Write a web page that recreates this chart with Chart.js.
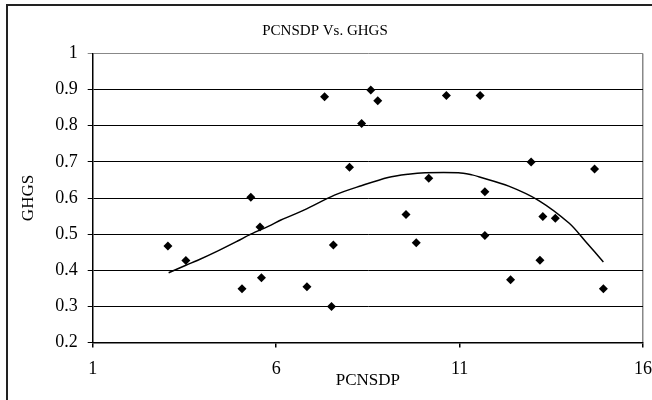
<!DOCTYPE html>
<html>
<head>
<meta charset="utf-8">
<script src="https://cdn.jsdelivr.net/npm/chart.js@4/dist/chart.umd.min.js"></script>
<style>
  html, body { margin: 0; padding: 0; background: #fff; overflow: hidden; }
  #wrap { width: 652px; height: 400px; }
</style>
</head>
<body>
<div id="wrap"><canvas id="scatterChart" width="652" height="400"></canvas></div>
<script>
// observed points (PCNSDP, GHGS)
const pcnsdp = [3.05, 3.54, 5.07, 5.31, 5.56, 5.60, 6.84, 7.32, 7.51, 7.56, 8.00, 8.33, 8.58, 8.77,
                9.54, 9.82, 10.16, 10.64, 11.56, 11.69, 11.69, 12.39, 12.95, 13.19, 13.27, 13.61, 14.68, 14.92];
const ghgs = [0.467, 0.427, 0.349, 0.602, 0.520, 0.379, 0.354, 0.880, 0.300, 0.470, 0.685, 0.806, 0.899, 0.869,
              0.554, 0.476, 0.655, 0.884, 0.884, 0.617, 0.496, 0.374, 0.700, 0.428, 0.549, 0.544, 0.680, 0.349];

// trend curve
const trendX = [3.07, 3.54, 3.85, 4.40, 4.95, 5.31, 5.86, 6.13, 6.77, 7.59, 8.32, 9.05, 9.60, 10.06,
                10.97, 11.34, 11.52, 12.34, 13.16, 13.99, 14.44, 14.92];
const trendY = [0.393, 0.414, 0.427, 0.453, 0.481, 0.500, 0.525, 0.539, 0.567, 0.608, 0.634, 0.657, 0.666, 0.670,
                0.670, 0.664, 0.659, 0.633, 0.593, 0.530, 0.479, 0.423];

const xTicks = [1, 6, 11, 16];
const yTicks = [0.2, 0.3, 0.4, 0.5, 0.6, 0.7, 0.8, 0.9, 1];

const serif = 'Liberation Serif';

const frame = {
  id: 'frame',
  afterDraw(chart) {
    const c = chart.ctx;
    c.save();
    c.strokeStyle = '#222';
    c.lineWidth = 2;
    c.strokeRect(7, 5, 660, 410);
    c.restore();
  }
};

new Chart(document.getElementById('scatterChart'), {
  type: 'scatter',
  data: {
    datasets: [
      {
        label: 'GHGS',
        data: pcnsdp.map((x, i) => ({ x: x, y: ghgs[i] })),
        pointStyle: 'rectRot',
        pointRadius: 4.5,
        backgroundColor: '#000',
        borderColor: '#000',
        borderWidth: 0
      },
      {
        label: 'trend',
        data: trendX.map((x, i) => ({ x: x, y: trendY[i] })),
        showLine: true,
        pointRadius: 0,
        borderColor: '#000',
        borderWidth: 1.5,
        tension: 0.3
      }
    ]
  },
  options: {
    responsive: false,
    animation: false,
    layout: { padding: { top: 0, right: 2, bottom: 0, left: 0 } },
    plugins: {
      legend: { display: false },
      tooltip: { enabled: false },
      title: {
        display: true,
        text: 'PCNSDP Vs. GHGS',
        color: '#000',
        font: { family: serif, size: 15, weight: 'normal' },
        padding: { top: 22, bottom: 13.5 }
      }
    },
    scales: {
      x: {
        type: 'linear',
        min: 1,
        max: 16,
        afterBuildTicks: s => { s.ticks = xTicks.map(v => ({ value: v })); },
        afterFit: s => { s.height = 57.5; s.paddingRight = 9; s.paddingLeft = 0; },
        ticks: { color: '#000', font: { family: serif, size: 18 }, padding: 11, maxRotation: 0,
                 callback: v => String(v) },
        grid: {
          color: ctx => (ctx.tick && ctx.tick.value === 16 ? '#888' : 'rgba(0,0,0,0)'),
          tickColor: '#000',
          tickLength: 5,
          lineWidth: 1.5
        },
        border: { color: '#000', width: 1.5 },
        title: {
          display: true,
          text: 'PCNSDP',
          color: '#000',
          font: { family: serif, size: 17 },
          padding: { top: 0, bottom: 9 }
        }
      },
      y: {
        min: 0.2,
        max: 1,
        afterBuildTicks: s => { s.ticks = yTicks.map(v => ({ value: v })); },
        afterFit: s => { s.width = 92.7; },
        ticks: { color: '#000', font: { family: serif, size: 18 }, padding: 10,
                 callback: v => String(v) },
        grid: {
          color: ctx => (ctx.tick && ctx.tick.value === 1 ? '#888' : '#000'),
          tickColor: ctx => (ctx.tick && ctx.tick.value === 1 ? '#888' : '#000'),
          tickLength: 5,
          lineWidth: 1
        },
        border: { color: '#000', width: 1.5 },
        title: {
          display: true,
          text: 'GHGS',
          color: '#000',
          font: { family: serif, size: 17 },
          padding: { top: 18, bottom: 0 }
        }
      }
    }
  },
  plugins: [frame]
});
</script>
</body>
</html>
